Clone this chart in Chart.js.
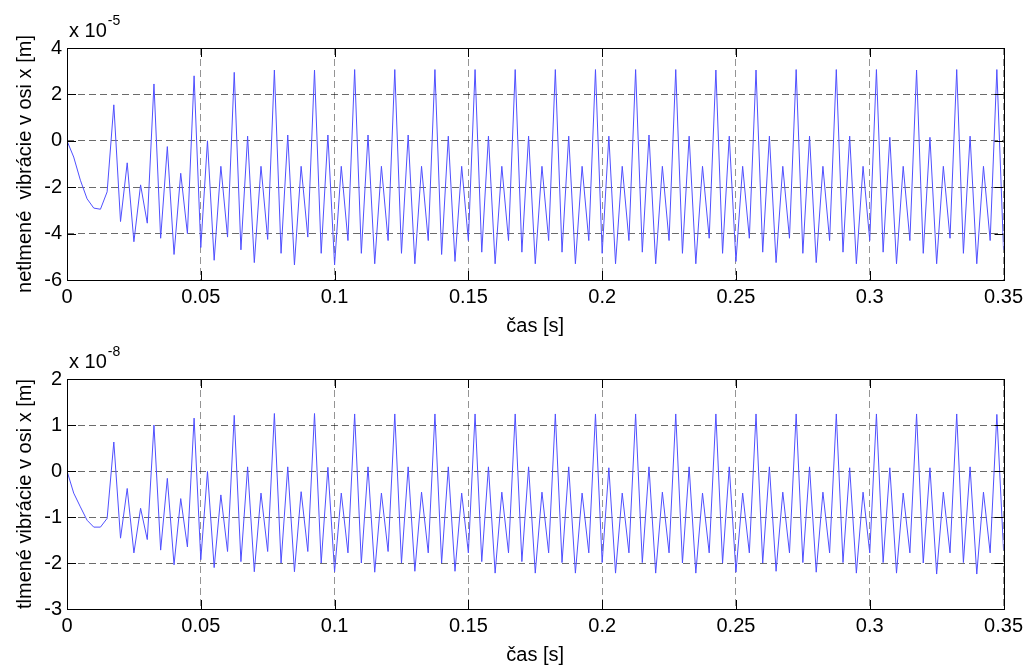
<!DOCTYPE html>
<html lang="sk">
<head>
<meta charset="UTF-8">
<title>Vibrácie v osi x</title>
<script src="https://cdn.jsdelivr.net/npm/chart.js"></script>
<style>
    * { margin: 0; padding: 0; box-sizing: border-box; }
    body { width: 1028px; height: 666px; background: #fff; position: relative; overflow: hidden; }
    .panel { position: absolute; left: 0; width: 1028px; }
    #top { top: 0; height: 345px; }
    #bottom { top: 333px; height: 333px; }
</style>
</head>
<body>
<div class="panel" id="top"><canvas id="chartTop" width="1028" height="345"></canvas></div>
<div class="panel" id="bottom"><canvas id="chartBottom" width="1028" height="333"></canvas></div>

<script>
// samples are 0.0025 s apart, starting at t = 0
const sampleStep = 0.0025;

const xTicks = [0, 0.05, 0.1, 0.15, 0.2, 0.25, 0.3, 0.35];
const yTicksTop = [-6, -4, -2, 0, 2, 4];
const yTicksBottom = [-3, -2, -1, 0, 1, 2];

// undamped vibration, in units of 1e-5 m
const undamped = [
    0, -0.7, -1.7, -2.5, -2.9, -2.95, -2.2,
    1.55, -3.48, -0.95, -4.35, -1.9, -3.55,
    2.45, -4.2, -0.25, -4.9, -1.4, -4.0,
    2.8, -4.6, 0.0, -5.15, -1.1, -4.15,
    2.95, -4.7, 0.2, -5.25, -1.1, -4.25,
    3.05, -4.85, 0.25, -5.35, -1.1, -4.15,
    3.05, -4.85, 0.25, -5.35,
    -1.1, -4.3, 3.07, -4.85, 0.25, -5.3,
    -1.1, -4.3, 3.07, -4.85, 0.25, -5.3,
    -1.1, -4.3, 3.07, -4.9, 0.2, -5.2,
    -1.1, -4.3, 3.07, -4.8, 0.2, -5.3,
    -1.1, -4.3, 3.07, -4.8, 0.2, -5.3,
    -1.1, -4.3, 3.07, -4.8, 0.2, -5.3,
    -1.1, -4.3, 3.07, -4.85, 0.2, -5.3,
    -1.1, -4.3, 3.07, -4.8, 0.25, -5.3,
    -1.1, -4.3, 3.07, -4.85, 0.2, -5.3,
    -1.1, -4.2, 3.05, -4.85, 0.2, -5.2,
    -1.1, -4.2, 3.05, -4.8, 0.2, -5.25,
    -1.1, -4.2, 3.07, -4.85, 0.2, -5.25,
    -1.1, -4.3, 3.07, -4.8, 0.2, -5.3,
    -1.1, -4.3, 3.07, -4.8, 0.15, -5.3,
    -1.1, -4.3, 3.05, -4.85, 0.15, -5.3,
    -1.1, -4.2, 3.07, -4.85, 0.2, -5.3,
    -1.1, -4.3, 3.07, -4.7
];

// damped vibration, in units of 1e-8 m
const damped = [
    0, -0.48, -0.78, -1.07, -1.22, -1.22, -1.03,
    0.63, -1.46, -0.38, -1.78, -0.81, -1.49,
    1.0, -1.72, -0.16, -2.04, -0.6, -1.65,
    1.15, -1.93, -0.01, -2.1, -0.52, -1.75,
    1.21, -1.97, 0.09, -2.19, -0.48, -1.75,
    1.25, -2.0, 0.09, -2.19, -0.45, -1.75,
    1.25, -2.0, 0.08, -2.19,
    -0.48, -1.78, 1.24, -2.0, 0.09, -2.2,
    -0.48, -1.75, 1.24, -2.0, 0.09, -2.18,
    -0.46, -1.78, 1.24, -2.0, 0.09, -2.18,
    -0.48, -1.78, 1.24, -1.97, 0.09, -2.22,
    -0.46, -1.78, 1.24, -1.97, 0.09, -2.22,
    -0.46, -1.78, 1.24, -1.99, 0.09, -2.22,
    -0.48, -1.78, 1.24, -1.99, 0.07, -2.22,
    -0.48, -1.78, 1.24, -1.99, 0.09, -2.22,
    -0.46, -1.78, 1.24, -2.0, 0.09, -2.22,
    -0.48, -1.78, 1.24, -2.0, 0.09, -2.2,
    -0.48, -1.78, 1.24, -2.0, 0.09, -2.18,
    -0.46, -1.78, 1.24, -1.99, 0.09, -2.2,
    -0.46, -1.78, 1.24, -1.99, 0.07, -2.22,
    -0.46, -1.78, 1.24, -1.99, 0.07, -2.22,
    -0.48, -1.78, 1.24, -2.0, 0.07, -2.24,
    -0.46, -1.78, 1.24, -1.99, 0.09, -2.24,
    -0.46, -1.78, 1.23, -1.72
];

const fontFamily = '"Liberation Sans", Arial, Helvetica, sans-serif';
const lineColor = '#5050ff';

// matlab style box: frame, inward ticks and the "x 10^n" label
const boxPlugin = {
    id: 'matlabBox',
    afterDraw(chart, args, opts) {
        const { ctx, chartArea: { left, right, top, bottom }, scales: { x, y } } = chart;
        const tl = 9;
        ctx.save();
        ctx.strokeStyle = '#000';
        ctx.lineWidth = 1;
        ctx.beginPath();
        x.ticks.forEach(t => {
            const px = Math.round(x.getPixelForValue(t.value)) + 0.5;
            ctx.moveTo(px, bottom); ctx.lineTo(px, bottom - tl);
            ctx.moveTo(px, top); ctx.lineTo(px, top + tl);
        });
        y.ticks.forEach(t => {
            const py = Math.round(y.getPixelForValue(t.value)) + 0.5;
            ctx.moveTo(left, py); ctx.lineTo(left + tl, py);
            ctx.moveTo(right, py); ctx.lineTo(right - tl, py);
        });
        ctx.stroke();
        ctx.strokeRect(Math.round(left) + 0.5, Math.round(top) + 0.5,
            Math.round(right - left), Math.round(bottom - top));

        ctx.fillStyle = '#000';
        ctx.textBaseline = 'alphabetic';
        ctx.font = '20px ' + fontFamily;
        ctx.fillText('x 10', left + 2, top - 11);
        const w = ctx.measureText('x 10').width;
        ctx.font = '14px ' + fontFamily;
        ctx.fillText(opts.exponent, left + 3 + w, top - 23);
        ctx.restore();
    }
};

function makeChart(id, values, yTicks, yTitle, exponent, pad) {
    const font = { family: fontFamily, size: 20 };
    return new Chart(document.getElementById(id), {
        type: 'line',
        data: {
            datasets: [{
                data: values.map((v, i) => ({ x: i * sampleStep, y: v })),
                borderColor: lineColor,
                borderWidth: 1,
                pointRadius: 0,
                tension: 0,
                fill: false
            }]
        },
        options: {
            responsive: false,
            animation: false,
            events: [],
            layout: { padding: { left: 0, right: 23, top: pad.top, bottom: pad.bottom } },
            plugins: {
                legend: { display: false },
                tooltip: { enabled: false },
                matlabBox: { exponent: exponent }
            },
            scales: {
                x: {
                    type: 'linear',
                    min: 0,
                    max: 0.35,
                    afterBuildTicks: s => { s.ticks = xTicks.map(v => ({ value: v })); },
                    afterFit: s => { s.height = pad.xAxis; },
                    grid: { color: 'rgba(0, 0, 0, 0.42)', drawTicks: false },
                    border: { display: false, dash: [7, 4] },
                    ticks: { color: '#000', font: font, padding: 5, maxRotation: 0, autoSkip: false, callback: v => String(v) },
                    title: { display: true, text: 'čas [s]', color: '#000', font: { ...font, lineHeight: 1 }, padding: 0 }
                },
                y: {
                    type: 'linear',
                    min: yTicks[0],
                    max: yTicks[yTicks.length - 1],
                    afterBuildTicks: s => { s.ticks = yTicks.map(v => ({ value: v })); },
                    afterFit: s => { s.width = 67; },
                    grid: { color: 'rgba(0, 0, 0, 0.58)', drawTicks: false },
                    border: { display: false, dash: [7, 4] },
                    ticks: { color: '#000', font: font, padding: 5, callback: v => String(v) },
                    title: { display: true, text: yTitle, color: '#000', font: { ...font, lineHeight: 1 }, padding: { top: 15, bottom: 0 } }
                }
            }
        },
        plugins: [boxPlugin]
    });
}

makeChart('chartTop', undamped, yTicksTop, 'netlmené  vibrácie v osi x [m]', '-5',
    { top: 48, bottom: 9, xAxis: 56 });
makeChart('chartBottom', damped, yTicksBottom, 'tlmené vibrácie v osi x [m]', '-8',
    { top: 46, bottom: 1, xAxis: 56 });
</script>
</body>
</html>
